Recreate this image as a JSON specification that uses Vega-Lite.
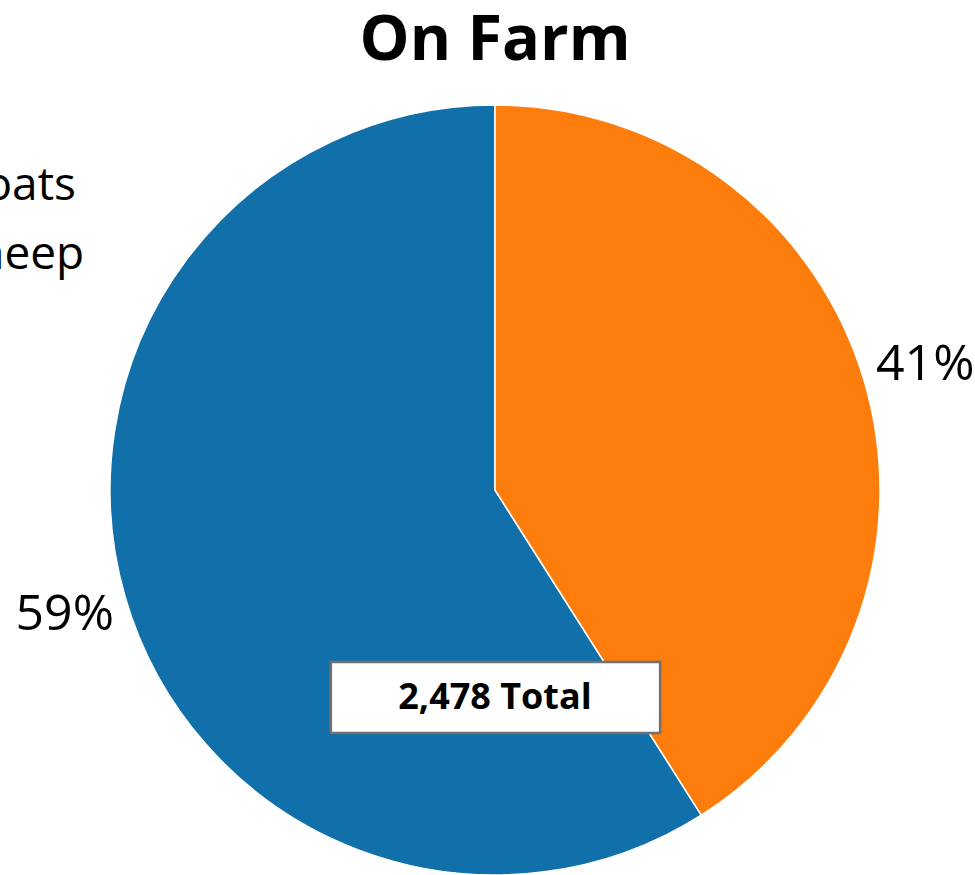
{
  "$schema": "https://vega.github.io/schema/vega-lite/v6.json",
  "width": 960,
  "height": 770,
  "autosize": {"type": "none"},
  "padding": {"left": 15, "top": 105, "right": 0, "bottom": 0},
  "background": "white",
  "config": {"view": {"stroke": null}, "font": "Open Sans"},
  "title": {
    "text": "On Farm",
    "font": "Open Sans",
    "fontSize": 63,
    "fontWeight": "bold",
    "color": "#000000",
    "anchor": "middle",
    "offset": 29
  },
  "data": {
    "values": [
      {"animal": "Goats", "count": 1462, "order": 2},
      {"animal": "Sheep", "count": 1016, "order": 1}
    ]
  },
  "layer": [
    {
      "mark": {"type": "arc", "stroke": "white", "strokeWidth": 1.5},
      "encoding": {
        "theta": {"field": "count", "type": "quantitative", "stack": true},
        "order": {"field": "order", "type": "quantitative"},
        "color": {
          "field": "animal",
          "type": "nominal",
          "scale": {"domain": ["Goats", "Sheep"], "range": ["#1170AA", "#FC7D0B"]},
          "legend": {
            "title": null,
            "orient": "none",
            "legendX": -118,
            "legendY": 58,
            "padding": 0,
            "symbolType": "square",
            "symbolSize": 400,
            "labelOffset": 8,
            "labelFont": "Open Sans",
            "labelFontSize": 46,
            "labelColor": "#000000",
            "labelLimit": 400,
            "rowPadding": 23
          }
        }
      }
    },
    {
      "mark": {"type": "text", "radius": 448, "fontSize": 50, "font": "Open Sans", "color": "#000000"},
      "encoding": {
        "theta": {"field": "count", "type": "quantitative", "stack": true},
        "order": {"field": "order", "type": "quantitative"},
        "text": {"field": "pct", "type": "nominal"}
      },
      "transform": [
        {"joinaggregate": [{"op": "sum", "field": "count", "as": "total"}]},
        {"calculate": "format(datum.count / datum.total, '.0%')", "as": "pct"}
      ]
    },
    {
      "data": {"values": [{"label": "2,478 Total"}]},
      "mark": {"type": "rect", "fill": "white", "stroke": "#707070", "strokeWidth": 2.5},
      "encoding": {
        "x": {"datum": 0.329, "type": "quantitative", "scale": {"domain": [0, 1], "nice": false, "zero": false}, "axis": null},
        "x2": {"datum": 0.672},
        "y": {"datum": 0.1844, "type": "quantitative", "scale": {"domain": [0, 1], "nice": false, "zero": false}, "axis": null},
        "y2": {"datum": 0.2766}
      }
    },
    {
      "data": {"values": [{"label": "2,478 Total"}]},
      "mark": {"type": "text", "fontSize": 36, "fontWeight": "bold", "font": "Open Sans", "color": "#000000"},
      "encoding": {
        "x": {"datum": 0.5, "type": "quantitative"},
        "y": {"datum": 0.2305, "type": "quantitative"},
        "text": {"field": "label", "type": "nominal"}
      }
    }
  ]
}
